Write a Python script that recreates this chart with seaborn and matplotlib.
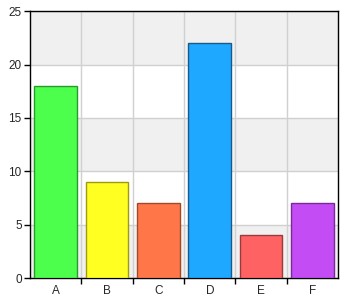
import pandas as pd
import matplotlib
matplotlib.use("Agg")
import matplotlib.pyplot as plt
import seaborn as sns
from matplotlib.ticker import FixedLocator

categories = ["A", "B", "C", "D", "E", "F"]
values = [18, 9, 7, 22, 4, 7]
bar_colors = ["#4cff4c", "#ffff22", "#ff7748", "#1ea8ff", "#ff6262", "#c44cf4"]
edge_colors = ["#2a9a2a", "#a09a10", "#a04a2a", "#1a5a8a", "#9a3a3a", "#7a2a9a"]
y_ticks = [0, 5, 10, 15, 20, 25]

df = pd.DataFrame({"cat": categories, "val": values})

sns.set_style("white")
plt.rcParams["font.family"] = ["Liberation Sans", "DejaVu Sans"]

fig = plt.figure(figsize=(3.5, 3.0), dpi=100)
ax = fig.add_axes([0.086, 0.073, 0.88, 0.89])

# alternating grey bands
for lo in [0, 10, 20]:
    ax.axhspan(lo, lo + 5, facecolor="#f0f0f0", edgecolor="none", zorder=0)

sns.barplot(data=df, x="cat", y="val", hue="cat", palette=bar_colors,
            width=0.83, legend=False, ax=ax, zorder=3, saturation=1)
bars = [p for c in ax.containers for p in c]
for patch, ec in zip(bars, edge_colors):
    patch.set_edgecolor(ec)
    patch.set_linewidth(1)

ax.set_ylim(0, 25)
ax.set_xlim(-0.5, 5.5)
ax.set_yticks(y_ticks)
ax.xaxis.set_minor_locator(FixedLocator([0.5, 1.5, 2.5, 3.5, 4.5]))
ax.grid(axis="y", which="major", color="#d0d0d0", lw=1, zorder=1)
ax.grid(axis="x", which="minor", color="#d0d0d0", lw=1, zorder=1)
ax.set_axisbelow(True)
ax.tick_params(axis="x", which="major", bottom=True, length=0, labelsize=8.5, pad=5)
ax.tick_params(axis="x", which="minor", bottom=True, length=4, width=1,
               color="black", direction="out")
ax.tick_params(axis="y", left=True, length=4, width=1, color="black",
               direction="out", labelsize=8.5, pad=2)
ax.set_xlabel("")
ax.set_ylabel("")
for s in ax.spines.values():
    s.set_color("black")
    s.set_linewidth(1)

fig.savefig("out.png", dpi=100)
